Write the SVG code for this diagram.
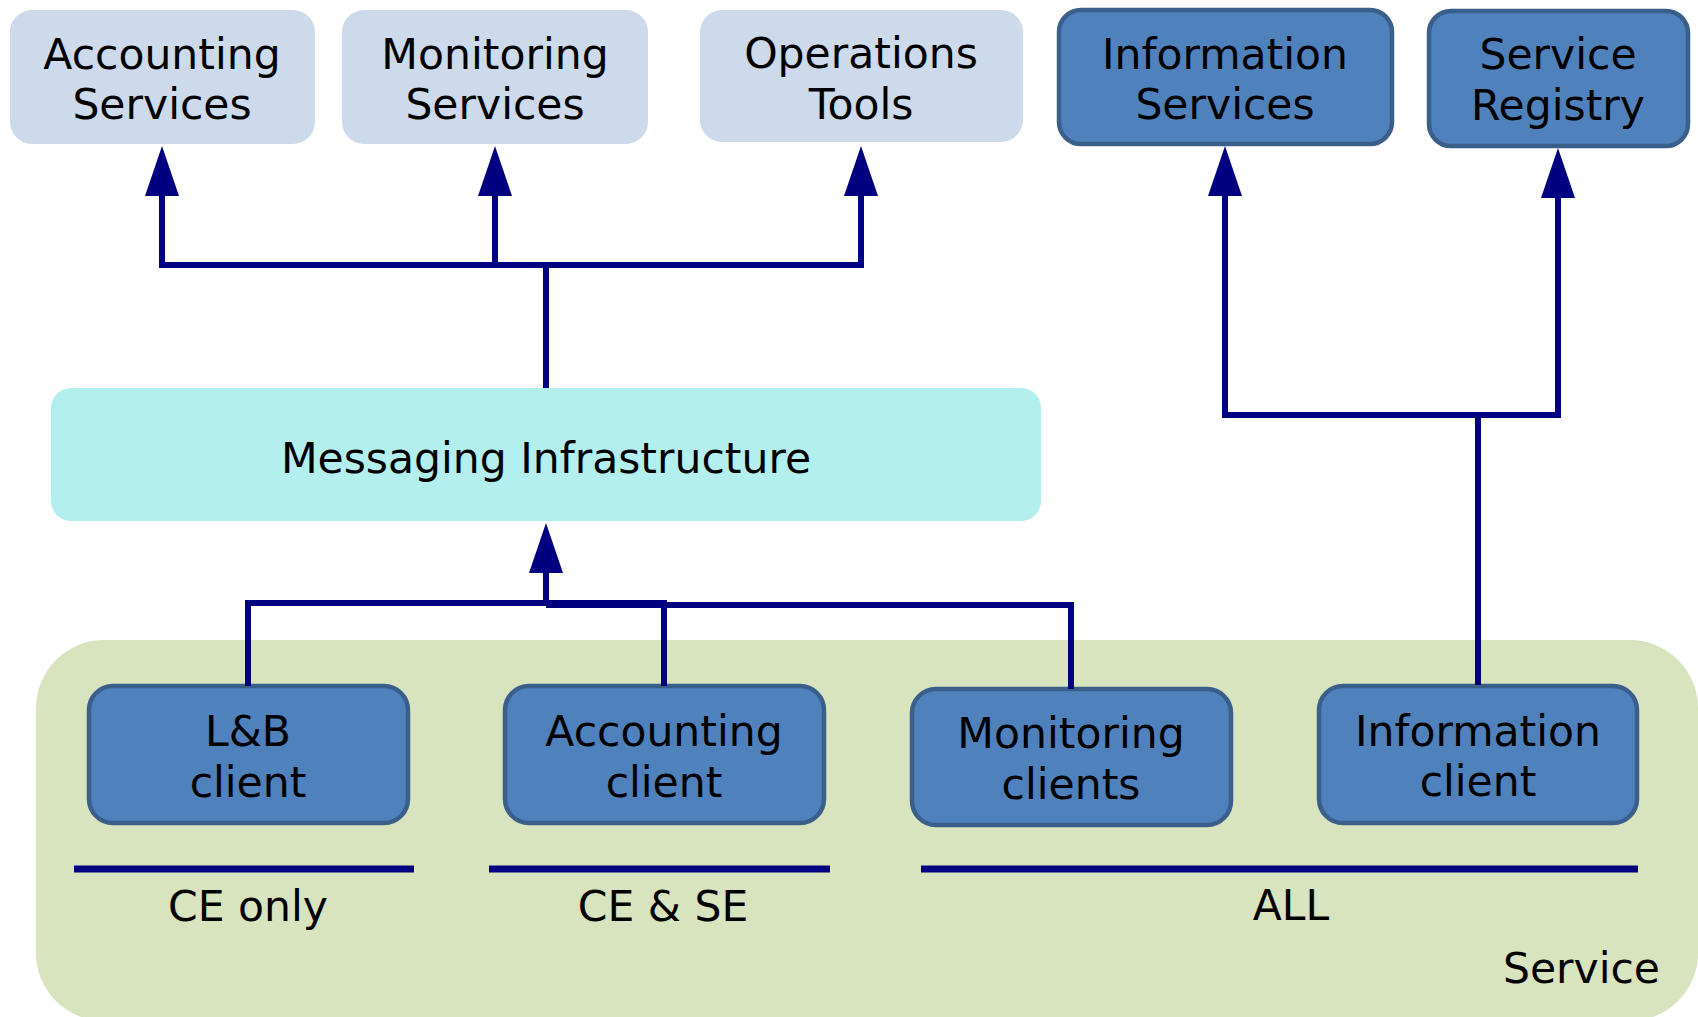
<svg xmlns="http://www.w3.org/2000/svg" width="1698" height="1017" viewBox="0 0 1698 1017">
<style>
text{font-family:"DejaVu Sans","Liberation Sans",sans-serif;font-size:42.5px;fill:#000;text-anchor:middle}
.light{fill:#cddaeb}
.dark{fill:#4f81bd;stroke:#3a5f8b;stroke-width:4.5}
.conn{fill:none;stroke:#000080;stroke-width:6;stroke-linejoin:miter}
.bar{stroke:#000080;stroke-width:7}
</style>
<defs>
<marker id="ah" markerUnits="userSpaceOnUse" markerWidth="50" markerHeight="34" refX="0" refY="17" orient="auto" overflow="visible">
<path d="M0,0 L50,17 L0,34 Z" fill="#000080"/>
</marker>
</defs>
<g id="service-container">
<rect x="36" y="640" width="1662" height="381" rx="68" ry="68" fill="#d8e4bd"/>
<text x="1660" y="983" style="text-anchor:end">Service</text>
</g>
<g id="accounting-services">
<rect class="light" x="10" y="10" width="305" height="134" rx="22"/>
<text x="162" y="69">Accounting</text><text x="162" y="119">Services</text>
</g>
<g id="monitoring-services">
<rect class="light" x="342" y="10" width="306" height="134" rx="22"/>
<text x="495" y="69">Monitoring</text><text x="495" y="119">Services</text>
</g>
<g id="operations-tools">
<rect class="light" x="700" y="10" width="323" height="132" rx="22"/>
<text x="861" y="68">Operations</text><text x="861" y="119">Tools</text>
</g>
<g id="information-services">
<rect class="dark" x="1059" y="10" width="333" height="134" rx="22"/>
<text x="1225" y="69">Information</text><text x="1225" y="119">Services</text>
</g>
<g id="service-registry">
<rect class="dark" x="1429" y="11" width="259" height="135" rx="22"/>
<text x="1558" y="69">Service</text><text x="1558" y="120">Registry</text>
</g>
<g id="messaging-infrastructure">
<rect x="51" y="388" width="990" height="133" rx="20" fill="#b4eff0"/>
<text x="546" y="473">Messaging Infrastructure</text>
</g>
<g id="lb-client">
<rect class="dark" x="89" y="686" width="319" height="137" rx="24"/>
<text x="248" y="746">L&amp;B</text><text x="248" y="797">client</text>
</g>
<g id="accounting-client">
<rect class="dark" x="505" y="686" width="319" height="137" rx="24"/>
<text x="664" y="746">Accounting</text><text x="664" y="797">client</text>
</g>
<g id="monitoring-clients">
<rect class="dark" x="912" y="689" width="319" height="136" rx="24"/>
<text x="1071" y="748">Monitoring</text><text x="1071" y="799">clients</text>
</g>
<g id="information-client">
<rect class="dark" x="1319" y="686" width="318" height="137" rx="24"/>
<text x="1478" y="746">Information</text><text x="1478" y="796">client</text>
</g>
<g id="scope-labels">
<line class="bar" x1="74" y1="869" x2="414" y2="869"/>
<line class="bar" x1="489" y1="869" x2="830" y2="869"/>
<line class="bar" x1="921" y1="869" x2="1638" y2="869"/>
<text x="248" y="921">CE only</text>
<text x="663" y="921">CE &amp; SE</text>
<text x="1291" y="920">ALL</text>
</g>
<g id="connectors">
<path class="conn" d="M546,388 V265 H162 V196" marker-end="url(#ah)"/>
<path class="conn" d="M495,265 V196" marker-end="url(#ah)"/>
<path class="conn" d="M546,265 H861 V196" marker-end="url(#ah)"/>
<path class="conn" d="M248,686 V603 H664 V686"/>
<path class="conn" d="M546,605 H1071 V689"/>
<path class="conn" d="M546,605 V573" marker-end="url(#ah)"/>
<path class="conn" d="M1478,685 V415 H1225 V196" marker-end="url(#ah)"/>
<path class="conn" d="M1478,415 H1558 V198" marker-end="url(#ah)"/>
</g>
</svg>
